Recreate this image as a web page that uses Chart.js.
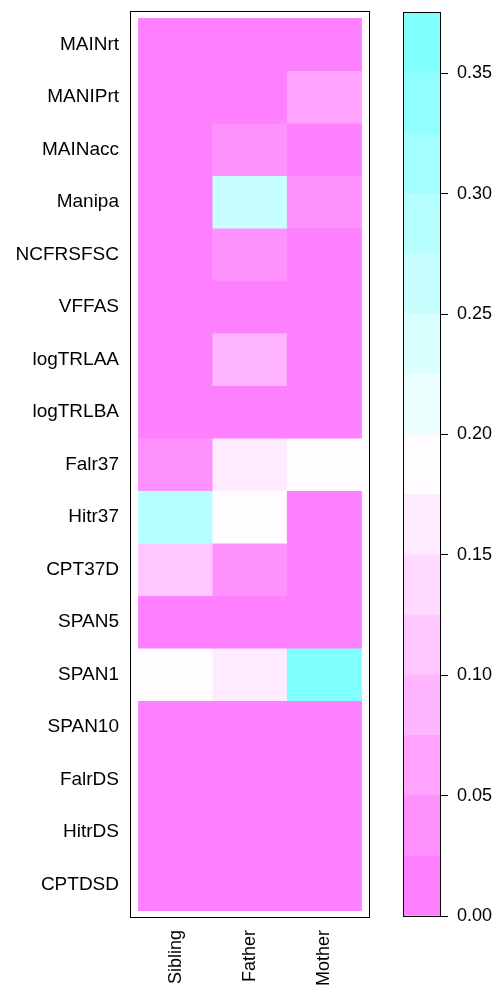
<!DOCTYPE html>
<html><head><meta charset="utf-8">
<script src="https://cdn.jsdelivr.net/npm/chart.js@4/dist/chart.umd.min.js"></script>
<style>
html,body{margin:0;padding:0;background:#fff;}
#wrap{position:relative;width:502px;height:992px;overflow:hidden;}
.box{position:absolute;top:0;height:992px;}
</style></head><body>
<div id="wrap">
<div class="box" style="left:0;width:380px"><canvas id="c1"></canvas></div>
<div class="box" style="left:380px;width:122px"><canvas id="c2"></canvas></div>
</div>
<script>
// ---- data ----
const rowLabels = ["MAINrt","MANIPrt","MAINacc","Manipa","NCFRSFSC","VFFAS","logTRLAA","logTRLBA",
  "Falr37","Hitr37","CPT37D","SPAN5","SPAN1","SPAN10","FalrDS","HitrDS","CPTDSD"];
const colLabels = ["Sibling","Father","Mother"];
const siblingValues = [0,0,0,0,0,0,0,0,0.04,0.29,0.11,0,0.19,0,0,0,0];
const fatherValues  = [0,0,0.04,0.26,0.04,0,0.09,0,0.16,0.19,0.04,0,0.16,0,0,0,0];
const motherValues  = [0,0.06,0,0.04,0,0,0,0,0.19,0,0,0,0.37,0,0,0,0];
const levelBreaks = [0,0.025,0.05,0.075,0.1,0.125,0.15,0.175,0.2,0.225,0.25,0.275,0.3,0.325,0.35,0.375];
const colorbarTicks = [0,0.05,0.1,0.15,0.2,0.25,0.3,0.35];

// ---- colours (lattice default regions: rev(cm.colors(100))) ----
const nBins = levelBreaks.length - 1;
function paletteColor(k){ // k in 1..100
  if (k <= 50){ const s = 0.5 - (k-1)*0.01; const g = Math.round(255*(1-s)); return `rgb(255,${g},255)`; }
  const s = (k-50)*0.01; const r = Math.round(255*(1-s)); return `rgb(${r},255,255)`;
}
function binColor(i){
  const k = Math.round(1 + i*(99/(nBins-1)));
  return paletteColor(k === 51 && i === 7 ? 50 : k);
}
function valueColor(v){
  let i = 0;
  while (i < nBins-1 && v >= levelBreaks[i+1]) i++;
  return binColor(i);
}

const frame = {
  id:'frame',
  afterDraw(chart){
    const a = chart.chartArea, ctx = chart.ctx;
    ctx.save(); ctx.strokeStyle = '#000'; ctx.lineWidth = 1;
    const l = Math.round(a.left)-0.5, t = Math.round(a.top)-0.5;
    const r = Math.round(a.right)+0.5, b = Math.round(a.bottom)+0.5;
    ctx.strokeRect(l, t, r-l, b-t); ctx.restore();
  }
};
function noPad(s){ s.paddingTop = 0; s.paddingBottom = 0; s.paddingLeft = 0; s.paddingRight = 0; }

const font = {family:"'Liberation Sans', Arial, Helvetica, sans-serif"};
Chart.defaults.font.family = font.family;
Chart.defaults.color = '#000';

const columns = [siblingValues, fatherValues, motherValues];
new Chart(document.getElementById('c1'), {
  type:'bar',
  data:{
    datasets: rowLabels.map((name, r) => ({
      label:name,
      data: colLabels.map((c, j) => ({x:j+1, y:[r-0.5, r+0.5]})),
      backgroundColor: colLabels.map((c, j) => valueColor(columns[j][r])),
      borderWidth:0, barPercentage:1, categoryPercentage:1, grouped:false
    }))
  },
  options:{
    responsive:true, maintainAspectRatio:false, animation:false,
    layout:{padding:{top:12, right:11, left:0, bottom:0}},
    plugins:{legend:{display:false}, tooltip:{enabled:false}},
    scales:{
      x:{type:'linear', min:0.4, max:3.6, offset:false,
        afterBuildTicks(s){ s.ticks = colLabels.map((c,j)=>({value:j+1})); },
        afterFit(s){ s.height = 75; noPad(s); },
        grid:{display:false, drawTicks:false}, border:{display:false},
        ticks:{autoSkip:false, minRotation:90, maxRotation:90, padding:13,
          font:{size:18}, color:'#000',
          callback:(v)=>colLabels[Math.round(v)-1] }
      },
      y:{type:'linear', reverse:true, min:-0.62, max:16.62,
        afterBuildTicks(s){ s.ticks = rowLabels.map((n,i)=>({value:i})); },
        afterFit(s){ s.width = 131; noPad(s); },
        grid:{display:false, drawTicks:false}, border:{display:false},
        ticks:{autoSkip:false, padding:12, font:{size:19}, color:'#000',
          callback:(v)=>rowLabels[Math.round(v)] }
      }
    }
  },
  plugins:[frame]
});

new Chart(document.getElementById('c2'), {
  type:'bar',
  data:{
    labels:['key'],
    datasets: levelBreaks.slice(0,-1).map((lo, i) => ({
      data:[[lo, levelBreaks[i+1]]],
      backgroundColor: binColor(i),
      borderWidth:0, barPercentage:1, categoryPercentage:1, grouped:false
    }))
  },
  options:{
    responsive:true, maintainAspectRatio:false, animation:false,
    layout:{padding:{top:13, left:24, right:0, bottom:76}},
    plugins:{legend:{display:false}, tooltip:{enabled:false}},
    scales:{
      x:{display:false},
      y:{type:'linear', position:'right', min:0, max:0.375,
        afterBuildTicks(s){ s.ticks = colorbarTicks.map(v=>({value:v})); },
        afterFit(s){ s.width = 62; noPad(s); },
        grid:{display:true, drawOnChartArea:false, drawTicks:true, tickLength:8, color:'#000', lineWidth:1},
        border:{display:false},
        ticks:{padding:9, font:{size:18}, color:'#000', callback:(v)=>Number(v).toFixed(2)}
      }
    }
  },
  plugins:[frame]
});
</script>
</body></html>
